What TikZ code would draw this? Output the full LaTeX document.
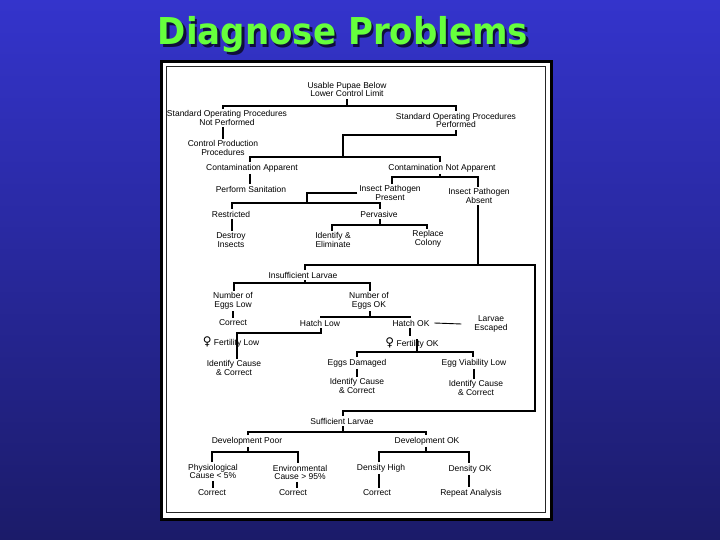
\documentclass[tikz,border=0pt]{standalone}
\usepackage{fontspec}
\setmainfont{Liberation Sans}
\newfontfamily\titlefont{DejaVu Sans}
\newfontfamily\symfont{DejaVu Sans}
\definecolor{bgtop}{RGB}{52,52,204}
\definecolor{bgbot}{RGB}{27,27,105}
\definecolor{titlegreen}{RGB}{102,255,60}
\definecolor{shadowc}{RGB}{15,15,60}
\newcommand{\femsym}{{\symfont\fontsize{12}{12}\selectfont ♀}}
\newcommand{\titletext}{Diagnose Problems}
\begin{document}
\begin{tikzpicture}[x=1pt,y=-1pt,
  lbl/.style={align=center, inner sep=0pt, outer sep=2pt, font=\fontsize{8.5}{8.5}\selectfont, text=black},
  ln/.style={line width=1.6pt},
  thinln/.style={line width=0.9pt},
  ttl/.style={inner sep=0pt, anchor=base, font=\titlefont\bfseries\fontsize{37}{37}\selectfont}]
\useasboundingbox (0,0) rectangle (720,540);
\shade[top color=bgtop, bottom color=bgbot] (0,0) rectangle (720,540);
% title (with its drop shadow, in one node)
\node[ttl] (title) at (343,45) {\scalebox{0.92}[1]{\rlap{\hspace{2.5pt}\raisebox{-2.5pt}{\textcolor{shadowc}{\titletext}}}\textcolor{titlegreen}{\titletext}}};
% frame
\fill[black] (160,60) rectangle (553,521);
\fill[white] (163,63) rectangle (550,518);
\draw[line width=0.9pt, black!85] (166,66.5) rectangle (545,512);
% nodes
\node[lbl] (top) at (347,89.5) {Usable Pupae Below\\Lower Control Limit};
\node[lbl] (sopnp) at (227,118) {Standard Operating Procedures\\Not Performed};
\node[lbl] (sopp) at (456,120.5) {Standard Operating Procedures\\Performed};
\node[lbl] (cpp) at (223,148) {Control Production\\Procedures};
\node[lbl] (ca) at (252,168) {Contamination Apparent};
\node[lbl] (cna) at (442,168) {Contamination Not Apparent};
\node[lbl] (ps) at (251,189) {Perform Sanitation};
\node[lbl] (ipp) at (390,193) {Insect Pathogen\\Present};
\node[lbl] (ipa) at (479,196) {Insect Pathogen\\Absent};
\node[lbl] (restr) at (231,214) {Restricted};
\node[lbl] (perv) at (379,214) {Pervasive};
\node[lbl] (di) at (231,240) {Destroy\\Insects};
\node[lbl] (ie) at (333,240) {Identify \&\\Eliminate};
\node[lbl] (rc) at (428,239) {Replace\\Colony};
\node[lbl] (il) at (303,275) {Insufficient Larvae};
\node[lbl] (nel) at (233,301) {Number of\\Eggs Low};
\node[lbl] (neok) at (369,301) {Number of\\Eggs OK};
\node[lbl] (c1) at (233,323) {Correct};
\node[lbl] (hl) at (320,323) {Hatch Low};
\node[lbl] (hok) at (411,323) {Hatch OK};
\node[lbl] (le) at (491,324) {Larvae\\Escaped};
\node[lbl] (fl) at (231,342) {\femsym\ Fertility Low};
\node[lbl] (fok) at (412,343) {\femsym\ Fertility OK};
\node[lbl] (icc1) at (234,368) {Identify Cause\\\& Correct};
\node[lbl] (ed) at (357,363) {Eggs Damaged};
\node[lbl] (evl) at (474,363) {Egg Viability Low};
\node[lbl] (icc2) at (357,386) {Identify Cause\\\& Correct};
\node[lbl] (icc3) at (476,388) {Identify Cause\\\& Correct};
\node[lbl] (sl) at (342,421) {Sufficient Larvae};
\node[lbl] (dp) at (247,441) {Development Poor};
\node[lbl] (dok) at (427,441) {Development OK};
\node[lbl] (pc) at (213,471.5) {Physiological\\Cause < 5\%};
\node[lbl] (ec) at (300,472.5) {Environmental\\Cause > 95\%};
\node[lbl] (dh) at (381,468) {Density High};
\node[lbl] (dok2) at (470,469) {Density OK};
\node[lbl] (c2) at (212,493) {Correct};
\node[lbl] (c3) at (293,493) {Correct};
\node[lbl] (c4) at (377,493) {Correct};
\node[lbl] (ra) at (471,493) {Repeat Analysis};
% connectors
\draw[ln] (top.south) -- (347,106);
\draw[ln] (sopnp.north -| 223,0) |- (456,106) -- (sopp.north -| 456,0);
\draw[ln] (sopnp.south -| 223,0) -- (cpp.north -| 223,0);
\draw[ln] (sopp.south -| 456,0) |- (343,135) -- (343,157);
\draw[ln] (ca.north -| 250,0) |- (440,157) -- (cna.north -| 440,0);
\draw[ln] (ca.south -| 250,0) -- (ps.north -| 250,0);
\draw[ln] (cna.south -| 440,0) -- (440,177);
\draw[ln] (ipp.north -| 392,0) |- (478,177) -- (ipa.north -| 478,0);
\draw[ln] (ipp.west) -| (307,203);
\draw[ln] (restr.north -| 232,0) |- (380,203) -- (perv.north -| 380,0);
\draw[ln] (restr.south -| 232,0) -- (di.north -| 232,0);
\draw[ln] (perv.south -| 380,0) -- (380,225);
\draw[ln] (ie.north -| 332,0) |- (427,225) -- (rc.north -| 427,0);
\draw[ln] (ipa.south -| 478,0) -- (478,265);
\draw[ln] (il.north -| 305,0) |- (535,265) |- (343,411) -- (sl.north -| 343,0);
\draw[ln] (il.south -| 305,0) -- (305,283);
\draw[ln] (nel.north -| 234,0) |- (370,283) -- (neok.north -| 370,0);
\draw[ln] (nel.south -| 233,0) -- (c1.north -| 233,0);
\draw[ln] (neok.south -| 370,0) -- (370,317);
\draw[ln] (hl.north -| 321,0) |- (410,317) -- (hok.north -| 410,0);
\draw[thinln] ([xshift=3pt]hok.east) -- ([xshift=-11pt]le.west);
\draw[ln] (hl.south -| 321,0) |- (237,333) -- (icc1.north -| 237,0);
\draw[ln] (hok.south -| 410,0) -- (410,336);
\draw[ln] (417,339) -- (417,352);
\draw[ln] (ed.north -| 357,0) |- (473,352) -- (evl.north -| 473,0);
\draw[ln] (ed.south -| 357,0) -- (icc2.north -| 357,0);
\draw[ln] (evl.south -| 474,0) -- (icc3.north -| 474,0);
\draw[ln] (sl.south -| 343,0) -- (343,432);
\draw[ln] (dp.north -| 248,0) |- (426,432) -- (dok.north -| 426,0);
\draw[ln] (dp.south -| 248,0) -- (248,452);
\draw[ln] (pc.north -| 212,0) |- (298,452) -- (ec.north -| 298,0);
\draw[ln] (pc.south -| 213,0) -- (c2.north -| 213,0);
\draw[ln] (ec.south -| 297,0) -- (c3.north -| 297,0);
\draw[ln] (dok.south -| 426,0) -- (426,452);
\draw[ln] (dh.north -| 379,0) |- (469,452) -- (dok2.north -| 469,0);
\draw[ln] (dh.south -| 379,0) -- (c4.north -| 379,0);
\draw[ln] (dok2.south -| 469,0) -- (ra.north -| 469,0);
\end{tikzpicture}
\end{document}
